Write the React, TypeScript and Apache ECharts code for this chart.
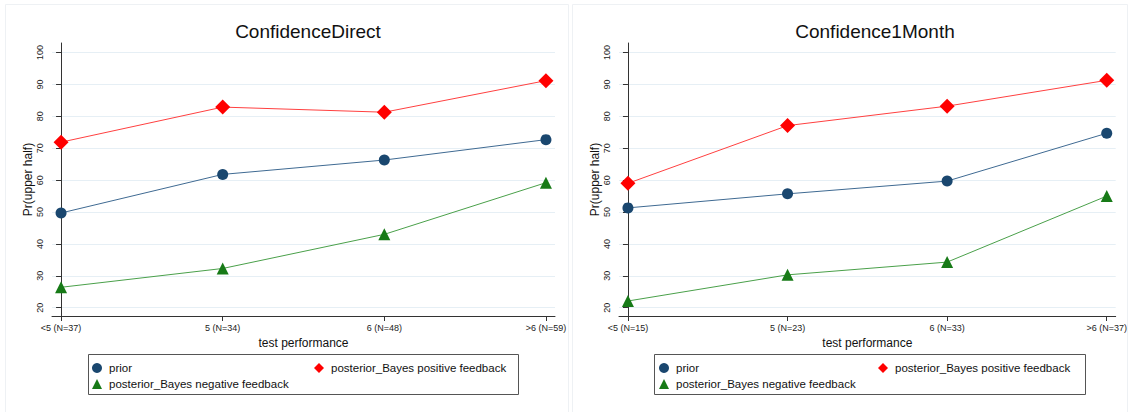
import React, { useEffect, useRef } from "react";
import * as echarts from "echarts";

const leftTitle = "ConfidenceDirect";
const rightTitle = "Confidence1Month";
const leftCategories = ["<5 (N=37)", "5 (N=34)", "6 (N=48)", ">6 (N=59)"];
const rightCategories = ["<5 (N=15)", "5 (N=23)", "6 (N=33)", ">6 (N=37)"];
const seriesNames = ["prior", "posterior_Bayes positive feedback", "posterior_Bayes negative feedback"];

const leftPrior = [49.7, 61.8, 66.3, 72.7];
const leftPositive = [71.9, 82.9, 81.3, 91.2];
const leftNegative = [26.4, 32.3, 43.0, 59.2];

const rightPrior = [51.3, 55.7, 59.7, 74.7];
const rightPositive = [59.0, 77.1, 83.2, 91.3];
const rightNegative = [22.1, 30.3, 34.3, 55.0];

const yTicks = [20, 30, 40, 50, 60, 70, 80, 90, 100];
const yGridLines = [30, 40, 50, 60, 70, 80, 90];
const xTicks = [0, 1, 2, 3];

const FONT = "Liberation Sans, Arial, sans-serif";

const styles = [
  { symbol: "circle", size: 11, marker: "#1a476f", line: "#3f6a92" },
  { symbol: "diamond", size: 15, marker: "#ff0000", line: "#ff4040" },
  { symbol: "triangle", size: 12, marker: "#177a17", line: "#4aa04a" },
];

function toPoints(vals: number[]) {
  return vals.map((v, i) => [i, v]);
}

export default function App() {
  const ref = useRef<HTMLDivElement>(null);
  useEffect(() => {
    document.body.style.margin = "0";
    const chart = echarts.init(ref.current!, null, { renderer: "svg" });
    const grids = [
      { left: 52, top: 43, width: 503, height: 273 },
      { left: 619, top: 43, width: 502, height: 273 },
    ];
    const cats = [leftCategories, rightCategories];
    const xAxes = grids.map((_, gi) => ({
      type: "value",
      gridIndex: gi,
      min: -0.056,
      max: 3.056,
      name: "test performance",
      nameLocation: "middle",
      nameGap: 21,
      nameTextStyle: { fontFamily: FONT, fontSize: 12, color: "#111" },
      axisLine: { show: true, lineStyle: { color: "#333", width: 1 } },
      axisTick: { show: true, length: 5, customValues: xTicks, lineStyle: { color: "#333" } },
      axisLabel: {
        customValues: xTicks,
        formatter: (v: number) => cats[gi][Math.round(v)],
        fontFamily: FONT,
        fontSize: 9,
        color: "#222",
        margin: 7,
      },
      splitLine: { show: false },
    }));
    const yAxes = grids.map((_, gi) => ({
      type: "value",
      gridIndex: gi,
      min: 17.4,
      max: 103,
      name: "Pr(upper half)",
      nameLocation: "middle",
      nameGap: 18,
      nameTextStyle: { fontFamily: FONT, fontSize: 12, color: "#111" },
      axisLine: { show: true, lineStyle: { color: "#333", width: 1 } },
      axisTick: { show: true, length: 5, customValues: yTicks, lineStyle: { color: "#333" } },
      axisLabel: {
        customValues: yTicks,
        rotate: 90,
        fontFamily: FONT,
        fontSize: 9,
        color: "#222",
        margin: 8,
      },
      splitLine: { show: true, customValues: yGridLines, lineStyle: { color: "#e6eff5", width: 1 } },
    }));
    const data = [
      [leftPrior, leftPositive, leftNegative],
      [rightPrior, rightPositive, rightNegative],
    ];
    const series: any[] = [];
    data.forEach((panel, gi) => {
      panel.forEach((vals, si) => {
        const s = styles[si];
        series.push({
          type: "line",
          name: seriesNames[si],
          xAxisIndex: gi,
          yAxisIndex: gi,
          data: toPoints(vals),
          symbol: s.symbol,
          symbolSize: s.size,
          lineStyle: { color: s.line, width: 1 },
          itemStyle: { color: s.marker },
          z: si === 0 ? 3 : 2,
        });
      });
    });
    const legendItem = (name: string, icon: string, color: string, left: number, top: number) => ({
      show: true,
      left,
      top,
      padding: 0,
      itemWidth: 10,
      itemHeight: 10,
      itemGap: 0,
      selectedMode: false,
      data: [{ name, icon, itemStyle: { color } }],
      textStyle: { fontFamily: FONT, fontSize: 11.5, color: "#111", padding: [0, 0, 0, 2] },
    });
    const legends = [
      legendItem(seriesNames[0], "circle", styles[0].marker, 92, 362),
      legendItem(seriesNames[1], "diamond", styles[1].marker, 314, 362),
      legendItem(seriesNames[2], "triangle", styles[2].marker, 92, 378),
      legendItem(seriesNames[0], "circle", styles[0].marker, 659, 362),
      legendItem(seriesNames[1], "diamond", styles[1].marker, 878, 362),
      legendItem(seriesNames[2], "triangle", styles[2].marker, 659, 378),
    ];
    chart.setOption({
      animation: false,
      backgroundColor: "#ffffff",
      title: [
        { text: leftTitle, left: 303, top: 17, textAlign: "center", textStyle: { fontFamily: FONT, fontSize: 19, fontWeight: "normal", color: "#111" } },
        { text: rightTitle, left: 870, top: 17, textAlign: "center", textStyle: { fontFamily: FONT, fontSize: 19, fontWeight: "normal", color: "#111" } },
      ],
      grid: grids,
      xAxis: xAxes,
      yAxis: yAxes,
      legend: legends,
      series,
      graphic: [
        { type: "rect", shape: { x: 5.5, y: 4.5, width: 563, height: 420 }, style: { fill: "none", stroke: "#eef1f4", lineWidth: 1 }, z: -1 },
        { type: "rect", shape: { x: 572.5, y: 4.5, width: 555, height: 420 }, style: { fill: "none", stroke: "#eef1f4", lineWidth: 1 }, z: -1 },
        { type: "rect", shape: { x: 88.5, y: 354.5, width: 430, height: 40 }, style: { fill: "none", stroke: "#555", lineWidth: 1 } },
        { type: "rect", shape: { x: 654.5, y: 354.5, width: 431, height: 40 }, style: { fill: "none", stroke: "#555", lineWidth: 1 } },
      ],
    } as any);
    return () => chart.dispose();
  }, []);
  return <div ref={ref} style={{ width: 1130, height: 412 }} />;
}
